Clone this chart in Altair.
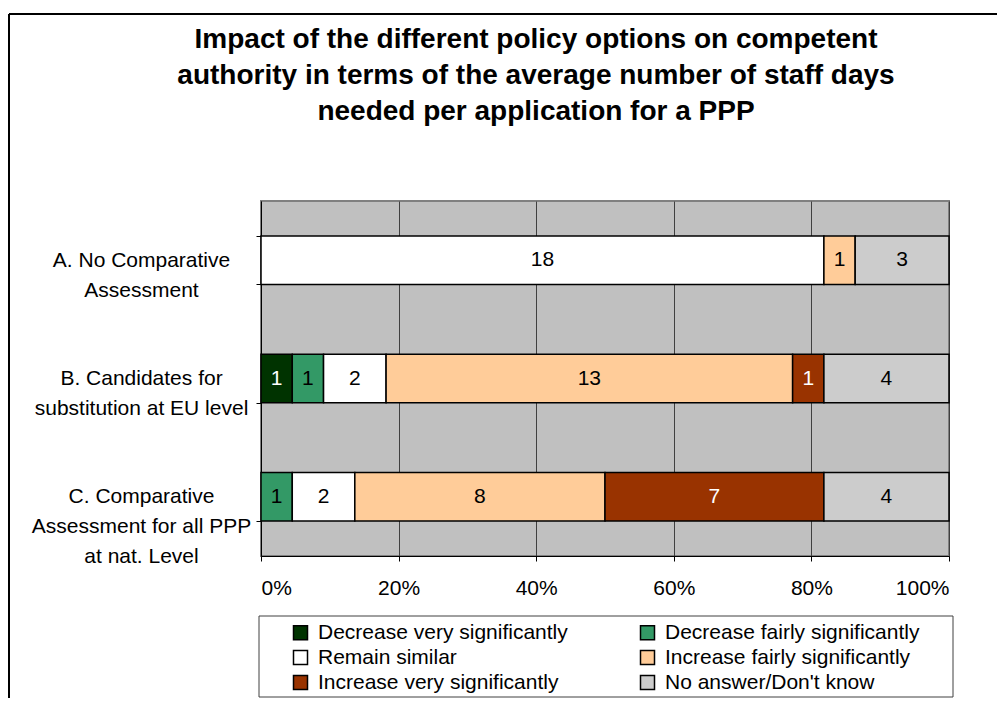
import altair as alt
import pandas as pd

# ---- data ----
rows = [
    "A. No Comparative|Assessment",
    "B. Candidates for|substitution at EU level",
    "C. Comparative|Assessment for all PPP|at nat. Level",
]
categories = [
    "Decrease very significantly",
    "Decrease fairly significantly",
    "Remain similar",
    "Increase fairly significantly",
    "Increase very significantly",
    "No answer/Don't know",
]
values_A = [0, 0, 18, 1, 0, 3]
values_B = [1, 1, 2, 13, 1, 4]
values_C = [0, 1, 2, 8, 7, 4]
colors = ["#003300", "#339966", "#FFFFFF", "#FFCC99", "#993300", "#CCCCCC"]
title_lines = [
    "Impact of the different policy options on competent",
    "authority in terms of the average number of staff days",
    "needed per application for a PPP",
]
x_ticks = [0, 0.2, 0.4, 0.6, 0.8, 1.0]

records = []
for row, vals in zip(rows, [values_A, values_B, values_C]):
    for i, (cat, v) in enumerate(zip(categories, vals)):
        if v > 0:
            records.append({"row": row, "category": cat, "order": i, "count": v})
df = pd.DataFrame(records)

FONT = "Liberation Sans"
FS = 21
white_text = [categories[0], categories[4]]

base = (
    alt.Chart(df)
    .transform_joinaggregate(total="sum(count)", groupby=["row"])
    .transform_calculate(pct="datum.count / datum.total")
    .transform_stack(stack="pct", groupby=["row"], as_=["x0", "x1"],
                     sort=[alt.SortField("order", order="ascending")])
    .transform_calculate(mid="(datum.x0 + datum.x1) / 2")
    .transform_calculate(
        tc="(datum.category == '%s' || datum.category == '%s') ? 'white' : 'black'"
        % (white_text[0], white_text[1])
    )
)

yenc = alt.Y(
    "row:N",
    sort=rows,
    scale=alt.Scale(paddingInner=0.59, paddingOuter=0.295),
    axis=alt.Axis(
        title=None,
        labelExpr="split(datum.label, '|')",
        labelAlign="center",
        labelBaseline="middle",
        labelPadding=115,
        labelLineHeight=30,
        labelLimit=400,
        labelFont=FONT,
        labelFontSize=FS,
        labelColor="black",
        tickBand="extent",
        tickSize=5,
        tickColor="black",
        domainColor="black",
        grid=False,
    ),
)

bars = base.mark_bar(stroke="black", strokeWidth=1.5).encode(
    y=yenc,
    x=alt.X(
        "x0:Q",
        scale=alt.Scale(domain=[0, 1], nice=False),
        axis=alt.Axis(
            title=None,
            format="%",
            values=x_ticks,
            labelFont=FONT,
            labelFontSize=FS,
            labelColor="black",
            labelPadding=16,
            tickSize=5,
            tickColor="black",
            domainColor="black",
            grid=True,
            gridColor="#404040",
            gridWidth=1,
        ),
    ),
    x2="x1:Q",
    color=alt.Color(
        "category:N",
        scale=alt.Scale(domain=categories, range=colors),
        legend=alt.Legend(
            title=None,
            orient="none",
            direction="horizontal",
            legendX=29,
            legendY=421,
            columns=2,
            columnPadding=69,
            rowPadding=3,
            padding=0,
            symbolType="square",
            symbolSize=196,
            symbolStrokeColor="black",
            symbolStrokeWidth=1.5,
            symbolOpacity=1,
            labelFont=FONT,
            labelFontSize=FS,
            labelColor="black",
            labelOffset=7,
            labelLimit=400,
        ),
    ),
)

labels = base.mark_text(font=FONT, fontSize=FS, baseline="middle").encode(
    y=alt.Y("row:N", sort=rows),
    x=alt.X("mid:Q"),
    text="count:Q",
    color=alt.Color("tc:N", scale=None),
)

one = pd.DataFrame({"k": [0]})
title = alt.Chart(one).mark_text(
    text=title_lines,
    font=FONT,
    fontSize=28,
    fontWeight="bold",
    align="center",
    baseline="alphabetic",
    lineHeight=36,
    color="black",
).encode(x=alt.value(275), y=alt.value(-153))

frame_left = alt.Chart(one).mark_rule(color="black", strokeWidth=2).encode(
    x=alt.value(-252), y=alt.value(-187), y2=alt.value(497)
)
frame_top = alt.Chart(one).mark_rule(color="black", strokeWidth=2).encode(
    x=alt.value(-252), x2=alt.value(736), y=alt.value(-187)
)
legend_box = alt.Chart(one).mark_rect(fill="white", stroke="#404040", strokeWidth=1).encode(
    x=alt.value(-2), x2=alt.value(692), y=alt.value(415), y2=alt.value(496)
)

chart = (
    alt.layer(frame_left, frame_top, legend_box, title, bars, labels)
    .properties(
        width=688,
        height=355,
        autosize=alt.AutoSizeParams(type="none"),
        padding={"left": 253, "top": 193, "right": 48, "bottom": 142},
        background="white",
    )
    .configure_view(fill="#C0C0C0", stroke="#808080", strokeWidth=2)
)

chart.save("out.html", embed_options={"renderer": "svg", "actions": False})
